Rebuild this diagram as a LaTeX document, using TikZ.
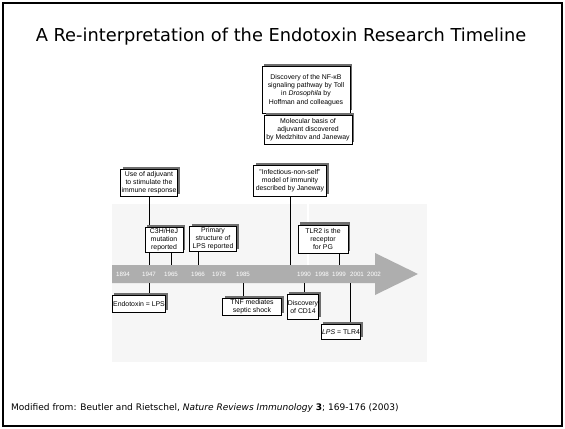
\documentclass[tikz,border=0pt]{standalone}
\usepackage{fontspec}
\setmainfont{Liberation Sans}
\newfontfamily\titlefont{DejaVu Sans}
\newfontfamily\notefont{DejaVu Sans}
\usetikzlibrary{shadows, backgrounds}
\definecolor{cBand}{RGB}{174,174,174}
\definecolor{cPanel}{RGB}{246,246,246}
\definecolor{cShadow}{RGB}{110,110,110}

\begin{document}
\begin{tikzpicture}[x=0.03cm, y=-0.03cm,
        eventbox/.style={rectangle, draw=black, line width=0.85pt, fill=white,
        align=center, inner sep=0.6pt, font=\fontsize{5.9}{7}\selectfont,
        drop shadow={shadow xshift=0.06cm, shadow yshift=0.075cm, fill=cShadow, opacity=1}},
        yearlabel/.style={font=\fontsize{5.3}{6}\selectfont, text=white, inner sep=0pt},
        tickline/.style={line width=0.7pt},
        pairline/.style={double, double distance=1.1pt, line width=0.55pt}
    ]
        \useasboundingbox (0,0) rectangle (565,429);
        \draw[line width=1.6pt] (3,3) rectangle (562,426);

        \node[font=\titlefont\fontsize{15.2}{17}\selectfont] (title) at (281,37)
            {A Re-interpretation of the Endotoxin Research Timeline};
        \node[anchor=west, font=\notefont\fontsize{7.7}{9}\selectfont] (source) at (7,408)
            {Modified from: Beutler and Rietschel, \textit{Nature Reviews Immunology} \textbf{3}; 169-176 (2003)};

        % --- timeline band ---
        \begin{scope}[on background layer]
            \fill[cPanel] (112,204) rectangle (427,362);
            \fill[cBand] (112,265) -- (375,265) -- (375,253) -- (418,274)
                -- (375,295) -- (375,283) -- (112,283) -- cycle;
        \end{scope}
        \coordinate (bandtop) at (0,265);
        \coordinate (bandbot) at (0,283);
        \coordinate (tlr4tick) at (350,283);

        \foreach \yr/\xx in {1894/123, 1947/149, 1965/171, 1966/198, 1978/219, 1985/243,
                             1990/304, 1998/322, 1999/339, 2001/357, 2002/374}
            \node[yearlabel] (y\yr) at (\xx,274) {\yr};

        % --- above the band ---
        \node[eventbox, minimum width=2.64cm, minimum height=1.38cm] (tollbox) at (306,90)
            {Discovery of the NF-κB\\signaling pathway by Toll\\in \textit{Drosophila} by\\Hoffman and colleagues};
        \node[eventbox, minimum width=2.64cm, minimum height=0.87cm] (molbox) at (308,130)
            {Molecular basis of\\adjuvant discovered\\by Medzhitov and Janeway};
        \node[eventbox, minimum width=2.19cm, minimum height=0.93cm] (infbox) at (290,181)
            {"Infectious-non-self"\\model of immunity\\described by Janeway};
        \node[eventbox, minimum width=1.71cm, minimum height=0.81cm] (adjbox) at (149,183)
            {Use of adjuvant\\to stimulate the\\immune response};
        \node[eventbox, minimum width=1.14cm, minimum height=0.75cm] (c3hbox) at (164,240)
            {C3H/HeJ\\mutation\\reported};
        \node[eventbox, minimum width=1.41cm, minimum height=0.75cm] (lpsbox) at (213,239)
            {Primary\\structure of\\LPS reported};
        \node[eventbox, minimum width=1.5cm, minimum height=0.84cm] (tlr2box) at (323,239)
            {TLR2 is the\\receptor\\for PG};

        % --- below the band ---
        \node[eventbox, minimum width=1.56cm, minimum height=0.51cm] (endobox) at (139,304)
            {Endotoxin = LPS};
        \node[eventbox, minimum width=1.77cm, minimum height=0.51cm] (tnfbox) at (252,307)
            {TNF mediates\\septic shock};
        \node[eventbox, minimum width=0.87cm, minimum height=0.75cm] (cd14box) at (303,307)
            {Discovery\\of CD14};
        \node[eventbox, minimum width=1.14cm, minimum height=0.45cm] (tlr4box) at (341,332)
            {\textit{LPS} = TLR4};

        \begin{scope}[on background layer]
            \draw[tickline] (adjbox.south) -- (adjbox.south |- bandtop);
            \draw[tickline] (c3hbox.south -| y1965) -- (y1965 |- bandtop);
            \draw[tickline] (lpsbox.south -| y1966) -- (y1966 |- bandtop);
            \draw[tickline] (infbox.south) -- (infbox.south |- bandtop);
            \draw[tickline] (tollbox.south) -- (tollbox.south |- molbox.north);
            \draw[pairline] (molbox.south) -- (molbox.south |- tlr2box.north);
            \draw[pairline] (tlr2box.south -| molbox.south) -- (molbox.south |- bandtop);
            \draw[tickline] (tlr2box.south -| y1999) -- (y1999 |- bandtop);

            \draw[tickline] (y1947 |- bandbot) -- (y1947 |- endobox.north);
            \draw[tickline] (y1985 |- bandbot) -- (y1985 |- tnfbox.north);
            \draw[tickline] (y1990 |- bandbot) -- (y1990 |- cd14box.north);
            \draw[tickline] (tlr4tick) -- (tlr4tick |- tlr4box.north);
        \end{scope}

    \end{tikzpicture}
\end{document}
